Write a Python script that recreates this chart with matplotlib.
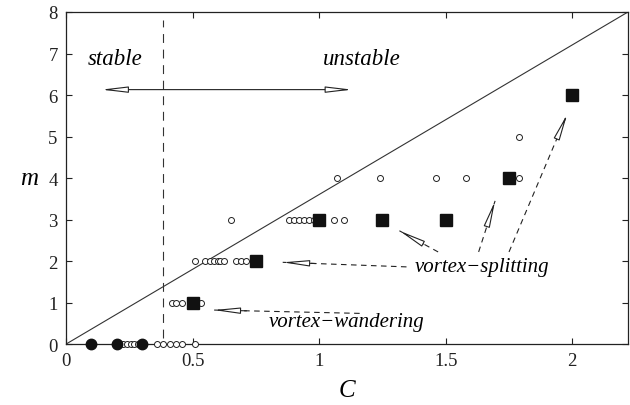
import matplotlib
matplotlib.use("Agg")
import matplotlib.pyplot as plt

plt.rcParams["font.family"] = ["Liberation Serif", "DejaVu Serif"]

# Stable configurations (filled circles at m = 0)
stable_C = [0.1, 0.2, 0.3]
stable_m = [0, 0, 0]

# Computed unstable modes (open circles), grouped by m
open_C = [0.225, 0.24, 0.255, 0.27, 0.285, 0.36, 0.385, 0.41, 0.435, 0.46, 0.51,
          0.42, 0.435, 0.46, 0.52, 0.535,
          0.51, 0.55, 0.57, 0.585, 0.60, 0.61, 0.625, 0.67, 0.69, 0.71,
          0.65, 0.88, 0.90, 0.92, 0.94, 0.96, 0.98, 1.06, 1.10,
          1.07, 1.24, 1.46, 1.58, 1.79,
          1.79]
open_m = [0] * 11 + [1] * 5 + [2] * 10 + [3] * 9 + [4] * 5 + [5]

# Dominant modes (filled squares)
dom_C = [0.5, 0.75, 1.0, 1.25, 1.5, 1.75, 2.0]
dom_m = [1, 2, 3, 3, 3, 4, 6]

x_ticks = [0, 0.5, 1, 1.5, 2]
x_ticklabels = ["0", "0.5", "1", "1.5", "2"]
y_ticks = [0, 1, 2, 3, 4, 5, 6, 7, 8]
C_max = 2.22
m_max = 8
C_crit = 0.385

fig = plt.figure(figsize=(6.3, 4.06), dpi=100)
ax = fig.add_axes([0.1048, 0.150, 0.892, 0.818])
ax.set_xlim(0, C_max)
ax.set_ylim(0, m_max)

# Neutral line and stability boundary
ax.plot([0, C_max], [0, m_max], color="#333333", lw=0.8)
ax.plot([C_crit, C_crit], [0.15, 7.8], color="#333333", lw=0.8, dashes=(8, 6))

ax.plot(open_C, open_m, "o", ms=4.3, mfc="white", mec="#222222", mew=0.7,
        clip_on=False, zorder=3)
ax.plot(stable_C, stable_m, "o", ms=7.5, color="#111111", clip_on=False, zorder=4)
ax.plot(dom_C, dom_m, "s", ms=8.3, color="#111111", clip_on=False, zorder=5)

tfont = dict(fontsize=16.5, style="italic")
ax.text(0.195, 6.87, "stable", ha="center", va="center", **tfont)
ax.text(1.167, 6.87, "unstable", ha="center", va="center", **tfont)

HEAD = "-|>,head_length=1.6,head_width=0.19"

# Double arrow spanning the two regimes
ax.annotate("", xy=(0.14, 6.13), xytext=(1.13, 6.13),
            arrowprops=dict(arrowstyle="<|-|>,head_length=1.6,head_width=0.19",
                            fc="white", ec="#222222", lw=0.8,
                            shrinkA=0, shrinkB=0))


def dashed_arrow(tail, head):
    """Dashed shaft with an open, narrow arrowhead at `head`."""
    ax.plot([tail[0], head[0]], [tail[1], head[1]], color="#222222", lw=0.8,
            dashes=(5, 4))
    dx = head[0] - tail[0]
    dy = head[1] - tail[1]
    f = 0.13 / max((dx ** 2 + (dy / 3.6) ** 2) ** 0.5, 1e-9)
    start = (head[0] - dx * f, head[1] - dy * f)
    ax.annotate("", xy=head, xytext=start,
                arrowprops=dict(arrowstyle=HEAD, fc="white", ec="#222222",
                                lw=0.8, shrinkA=0, shrinkB=0))


lfont = dict(fontsize=15, style="italic")
ax.text(1.643, 1.86, "vortex\u2212splitting", ha="center", va="center", **lfont)
ax.text(1.107, 0.54, "vortex\u2212wandering", ha="center", va="center", **lfont)

dashed_arrow((1.345, 1.86), (0.856, 1.97))
dashed_arrow((1.47, 2.22), (1.317, 2.73))
dashed_arrow((1.63, 2.22), (1.695, 3.45))
dashed_arrow((1.75, 2.22), (1.98, 5.54))
dashed_arrow((1.16, 0.74), (0.583, 0.82))

ax.set_xticks(x_ticks)
ax.set_xticklabels(x_ticklabels)
ax.set_yticks(y_ticks)
ax.tick_params(direction="in", length=4.5, width=0.8, top=True, right=True,
               labelsize=13.5, pad=6, colors="#222222")
for s in ax.spines.values():
    s.set_linewidth(0.9)
    s.set_color("#222222")

ax.set_xlabel("C", fontsize=18, style="italic", labelpad=7)
ax.set_ylabel("m", fontsize=18, style="italic", rotation=0, labelpad=14, va="center")

fig.savefig("out.png", dpi=100)
